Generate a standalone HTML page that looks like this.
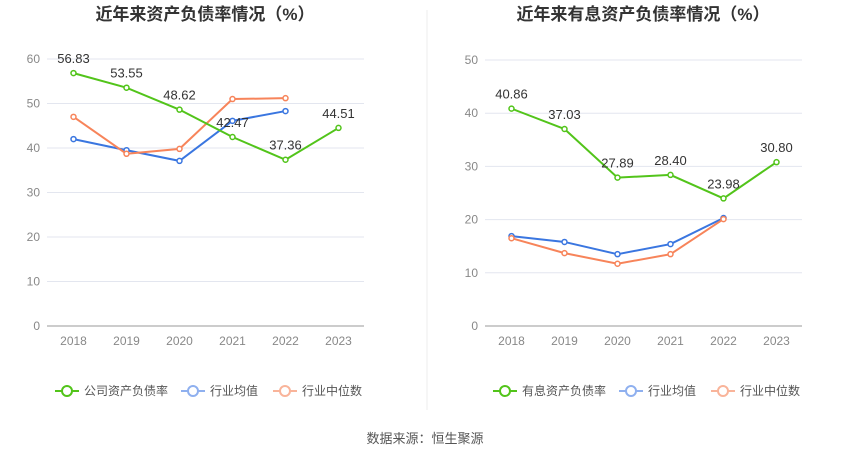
<!DOCTYPE html>
<html><head><meta charset="utf-8"><style>
body{margin:0;background:#fff;font-family:"Liberation Sans","Noto Sans CJK SC",sans-serif;}
svg text{font-family:"Liberation Sans","Noto Sans CJK SC",sans-serif;}
</style></head><body>
<svg id="s" width="850" height="459" xmlns="http://www.w3.org/2000/svg">
<line x1="427" y1="10" x2="427" y2="410" stroke="#eee"/>
<text x="425" y="443" font-size="13" fill="#555" text-anchor="middle">数据来源：恒生聚源</text>
</svg>
<script>
const years=["2018","2019","2020","2021","2022","2023"];
const leftCompany=[56.83,53.55,48.62,42.47,37.36,44.51];
const leftAvg=[42.0,39.5,37.1,46.1,48.3];
const leftMedian=[47.0,38.7,39.8,51.0,51.2];
const leftTicks=[0,10,20,30,40,50,60];
const rightCompany=[40.86,37.03,27.89,28.40,23.98,30.80];
const rightAvg=[16.9,15.8,13.5,15.4,20.3];
const rightMedian=[16.5,13.7,11.7,13.5,20.1];
const rightTicks=[0,10,20,30,40,50];
const svg=document.getElementById('s');
const NS="http://www.w3.org/2000/svg";
function mk(t,a,txt){const e=document.createElementNS(NS,t);for(const k in a)e.setAttribute(k,a[k]);if(txt!==undefined)e.textContent=txt;svg.appendChild(e);return e;}
function panel(p){
  const xs=i=>p.x0+26.5+i*53;
  const ys=v=>326-(v/p.max)*(326-p.top);
  let t=mk('text',{x:p.x0+158,y:20,'font-size':17,'font-weight':'bold',fill:'#333','text-anchor':'middle'},p.title);
  
  
  p.ticks.forEach(v=>{
    let l=mk('line',{x1:p.x0,x2:p.x0+317,y1:ys(v),y2:ys(v),stroke:v===0?'#999':'#e3e6ef'});
    
    
    let tt=mk('text',{x:p.x0-7,y:ys(v)+4,'font-size':12,fill:'#888','text-anchor':'end'},String(v));
    
    
  });
  years.forEach((y,i)=>{
    let tt=mk('text',{x:xs(i),y:345,'font-size':12,fill:'#888','text-anchor':'middle'},y);
    
    
  });
  const series=[[p.avg,'#3a76e0','avg'],[p.med,'#f7845a','median'],[p.comp,'#52c41a','company']];
  series.forEach(([d,c,n])=>{
    let pl=mk('polyline',{points:d.map((v,i)=>xs(i)+','+ys(v)).join(' '),fill:'none',stroke:c,'stroke-width':2});
    
    
    d.forEach((v,i)=>{
      let ci=mk('circle',{cx:xs(i),cy:ys(v),r:2.5,fill:'#fff',stroke:c,'stroke-width':1.5});
      
      
    });
  });
  p.comp.forEach((v,i)=>{
    let tt=mk('text',{x:xs(i),y:ys(v)-10,'font-size':13,fill:'#333','text-anchor':'middle'},v.toFixed(2));
    
    
  });
  const leg=[[p.legName,'#52c41a',p.x0+8],['行业均值','#8fb0ef',p.x0+134],['行业中位数','#f9b49a',p.x0+226]];
  leg.forEach(([n,c,x])=>{
    let l=mk('line',{x1:x,x2:x+24,y1:391,y2:391,stroke:c,'stroke-width':2});
    
    
    let ci=mk('circle',{cx:x+12,cy:391,r:5,fill:'#fff',stroke:c,'stroke-width':2});
    
    
    let tt=mk('text',{x:x+29,y:395,'font-size':12,fill:'#555'},n);
    
    
  });
}
panel({id:'left',x0:47,top:59,max:60,ticks:leftTicks,comp:leftCompany,avg:leftAvg,med:leftMedian,title:'近年来资产负债率情况（%）',legName:'公司资产负债率'});
panel({id:'right',x0:485,top:60,max:50,ticks:rightTicks,comp:rightCompany,avg:rightAvg,med:rightMedian,title:'近年来有息资产负债率情况（%）',legName:'有息资产负债率'});
</script>
</body></html>
